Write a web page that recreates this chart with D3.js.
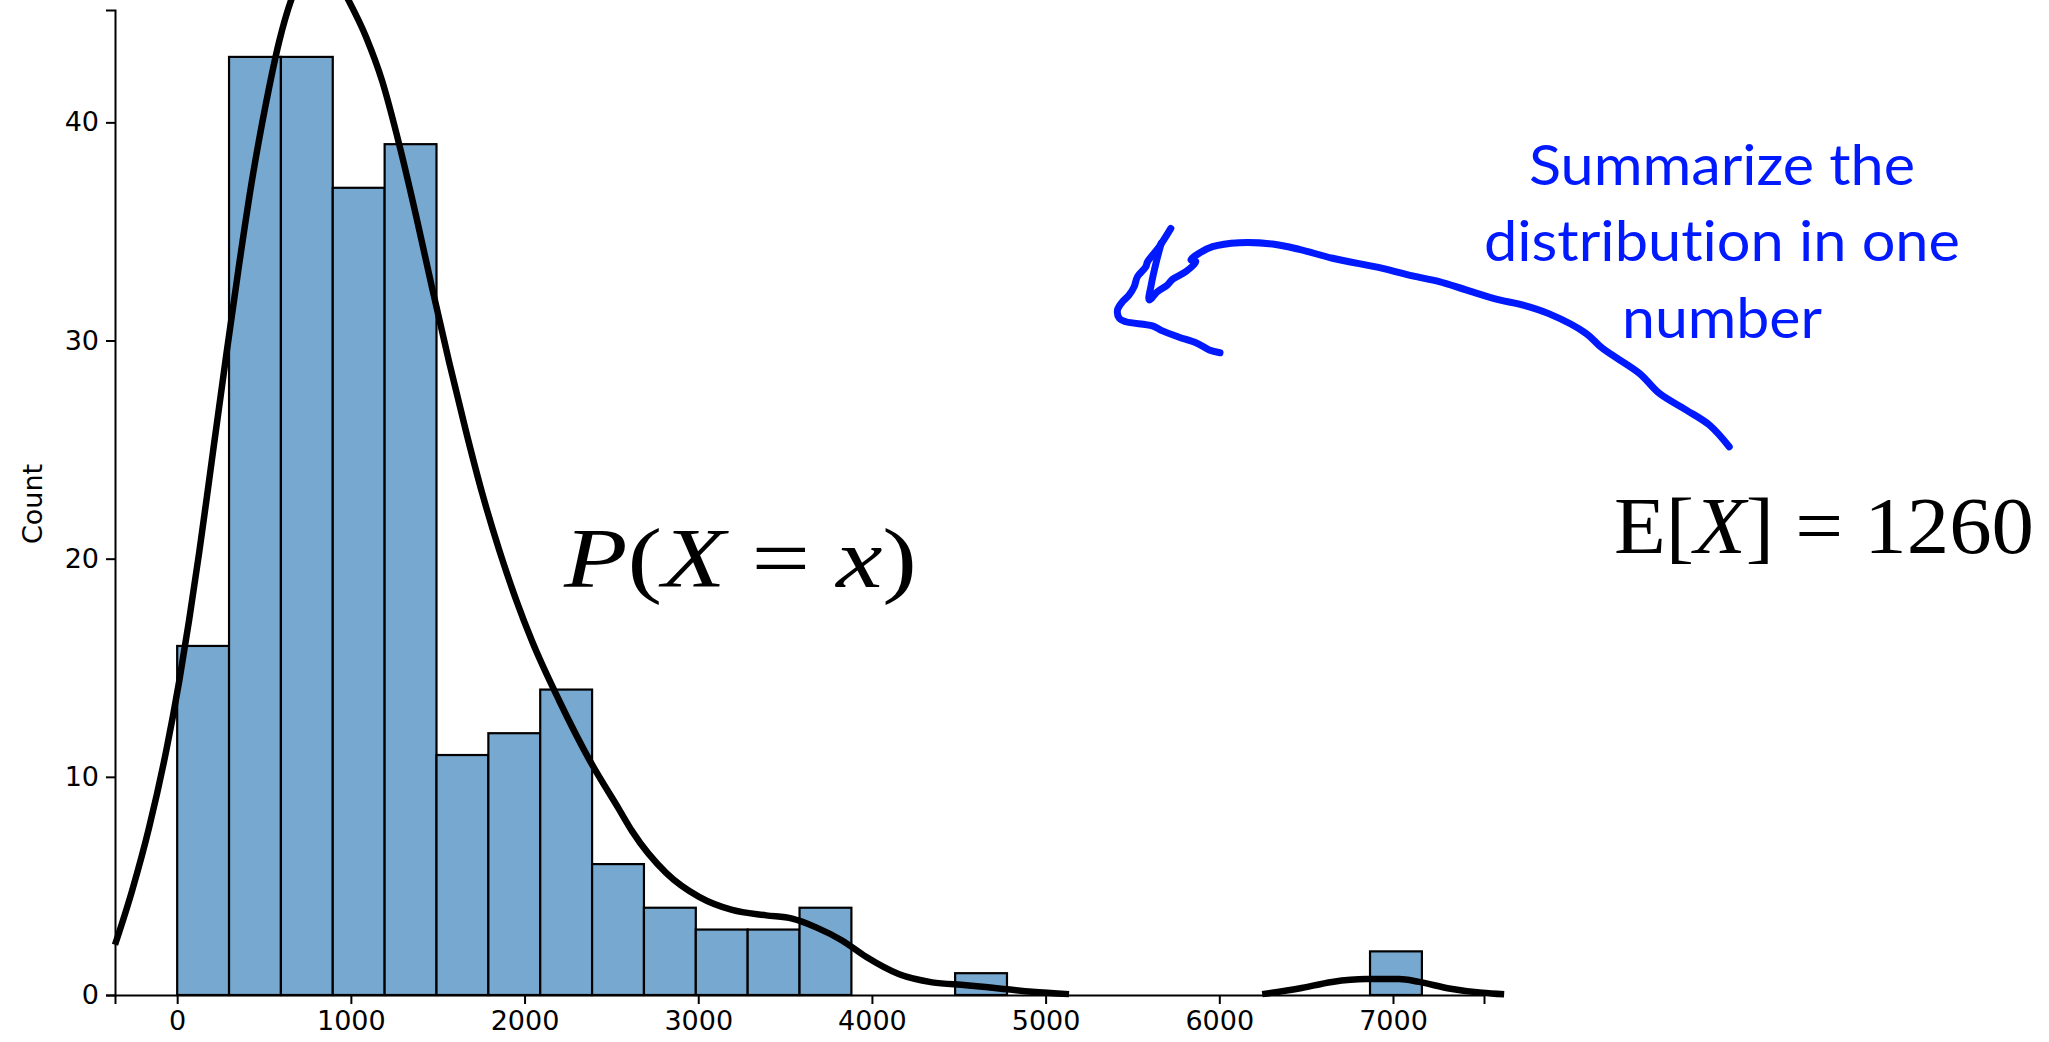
<!DOCTYPE html>
<html><head><meta charset="utf-8">
<script src="https://cdn.jsdelivr.net/npm/d3@7/dist/d3.min.js"></script>
<style>body{margin:0;background:#fff;overflow:hidden}</style></head>
<body><svg id="c" width="2049" height="1042"></svg>
<script>
// ---- data ----
const binStart = 0;
const binWidth = 298.6;
const binCounts = [16,43,43,37,39,11,12,14,6,4,3,3,4,0,0,1,0,0,0,0,0,0,0,2];
const xTicks = [0,1000,2000,3000,4000,5000,6000,7000];
const yTicks = [0,10,20,30,40];
const kdeX = [-358,-259,-161,-63,12,69,127,167,213,282,357,432,512,587,656,740,800,890,973,1088,1180,1278,1376,1468,1566,1664,1756,1854,1952,2044,2199,2372,2545,2620,2815,3005,3195,3391,3541,3679,3828,3966,4157,4347,4542,4732,4922,5135,5700,6247,6459,6649,6845,7035,7150,7323,7513,7640];
const kdeY = [2.3,4.8,7.7,11.2,14.4,17.2,20.3,22.6,25.3,29.3,33.5,37.4,40.9,43.7,45.6,47.0,47.4,47.0,45.8,43.9,41.9,39.0,35.7,32.4,29.0,25.8,23.0,20.4,18.1,16.2,13.5,10.8,8.5,7.5,5.6,4.5,3.9,3.65,3.5,3.1,2.5,1.75,0.95,0.58,0.45,0.3,0.15,0.04,null,0.04,0.3,0.6,0.73,0.73,0.6,0.3,0.1,0.03];
// hand-drawn annotation arrow, in data units
const arrowHeadX = [5721,5654,5587,5577,5529,5510,5481,5443,5414,5424,5462,5615,5673,5769,5865,5942,6004];
const arrowHeadY = [35.14,34.30,33.61,33.38,32.93,32.47,32.09,31.78,31.40,31.02,30.86,30.67,30.44,30.15,29.90,29.57,29.44];
const arrowShaftX = [5666,5637,5608,5596,5644,5702,5731,5808,5865,5837,5884,5961,6115,6306,6460,6652,6940,7113,7266,7420,7612,7727,7900,8111,8206,8418,8533,8687,8821,8936];
const arrowShaftY = [34.47,33.60,32.55,31.86,32.24,32.55,32.81,33.16,33.61,33.69,34.00,34.30,34.48,34.42,34.18,33.77,33.31,32.96,32.70,32.32,31.86,31.67,31.22,30.33,29.64,28.50,27.58,26.82,26.13,25.13];
const noteLines = ["Summarize the","distribution in one","number"];
const yLabel = "Count";

// ---- layout ----
const svg = d3.select("#c");
const x = d3.scaleLinear().domain([-358, 7524]).range([115, 1484]);
const y = d3.scaleLinear().domain([0, 45.15]).range([995, 10]);

// bars
const bins = binCounts.map((c,i)=>({x0: binStart + i*binWidth, x1: binStart + (i+1)*binWidth, c}));
svg.append("g").selectAll("rect").data(bins.filter(b=>b.c>0)).join("rect")
  .attr("x", d=>x(d.x0)).attr("width", d=>x(d.x1)-x(d.x0))
  .attr("y", d=>y(d.c)).attr("height", d=>y(0)-y(d.c))
  .attr("fill", "#77a8cf").attr("stroke", "#000").attr("stroke-width", 2.2);

// kde curve
const kde = kdeX.map((v,i)=>({x:v, y:kdeY[i]}));
const line = d3.line().defined(d=>d.y!=null).x(d=>x(d.x)).y(d=>y(d.y)).curve(d3.curveMonotoneX);
svg.append("path").attr("d", line(kde)).attr("fill","none").attr("stroke","#000")
  .attr("stroke-width",6.5).attr("stroke-linejoin","round").attr("stroke-linecap","butt");

// axes
const xAxis = d3.axisBottom(x).tickValues(xTicks).tickFormat(d3.format("d")).tickSizeOuter(0).tickSize(9).tickPadding(7);
const gx = svg.append("g").attr("transform",`translate(0,${y(0)})`).call(xAxis);
const yAxis = d3.axisLeft(y).tickValues(yTicks).tickFormat(d3.format("d")).tickSizeOuter(0).tickSize(9).tickPadding(7);
const gy = svg.append("g").attr("transform",`translate(${x.range()[0]},0)`).call(yAxis);
[gx,gy].forEach(g=>{
  g.select(".domain").attr("stroke","#000").attr("stroke-width",2);
  g.selectAll(".tick line").attr("stroke","#000").attr("stroke-width",2);
  g.selectAll(".tick text").attr("fill","#000").style("font-family","'DejaVu Sans'").style("font-size","27px");
});
gx.selectAll(".tick text").attr("dy","0.71em");

svg.append("text").attr("transform","translate(32,504) rotate(-90)")
  .attr("text-anchor","middle").attr("dominant-baseline","central")
  .style("font-family","'DejaVu Sans'").style("font-size","27px").text(yLabel);

// P(X = x) label
const serif = "'Liberation Serif', 'DejaVu Serif', serif";
const pt = svg.append("text").attr("x",564).attr("y",587)
  .attr("textLength",353).attr("lengthAdjust","spacingAndGlyphs")
  .style("font-family",serif).style("font-size","84px").attr("fill","#000");
pt.append("tspan").style("font-style","italic").text("P");
pt.append("tspan").text("(");
pt.append("tspan").style("font-style","italic").text("X");
pt.append("tspan").text(" = ");
pt.append("tspan").style("font-style","italic").text("x");
pt.append("tspan").text(")");

// E[X] = 1260 label
const et = svg.append("text").attr("x",1614).attr("y",553)
  .attr("textLength",420).attr("lengthAdjust","spacingAndGlyphs")
  .style("font-family",serif).style("font-size","80px").attr("fill","#000");
et.append("tspan").text("E[");
et.append("tspan").style("font-style","italic").text("X");
et.append("tspan").text("] = 1260");

// blue note
const blue = "#0019ff";
const noteBase = [185, 261, 338];
const noteW = [386, 476, 200];
svg.append("g").selectAll("text").data(noteLines).join("text")
  .attr("x",1722).attr("y",(d,i)=>noteBase[i]).attr("text-anchor","middle")
  .attr("textLength",(d,i)=>noteW[i]).attr("lengthAdjust","spacingAndGlyphs")
  .style("font-family","Lato, 'Open Sans', sans-serif").style("font-size","57px")
  .style("font-variant-ligatures","none").attr("fill",blue).text(d=>d);

// arrow
const aline = d3.line().x(d=>x(d[0])).y(d=>y(d[1])).curve(d3.curveCatmullRom.alpha(0.5));
const head = arrowHeadX.map((v,i)=>[v, arrowHeadY[i]]);
const shaft = arrowShaftX.map((v,i)=>[v, arrowShaftY[i]]);
[head, shaft].forEach(p=>svg.append("path").attr("d",aline(p)).attr("fill","none")
  .attr("stroke",blue).attr("stroke-width",7).attr("stroke-linecap","round").attr("stroke-linejoin","round"));
</script>
</body></html>
